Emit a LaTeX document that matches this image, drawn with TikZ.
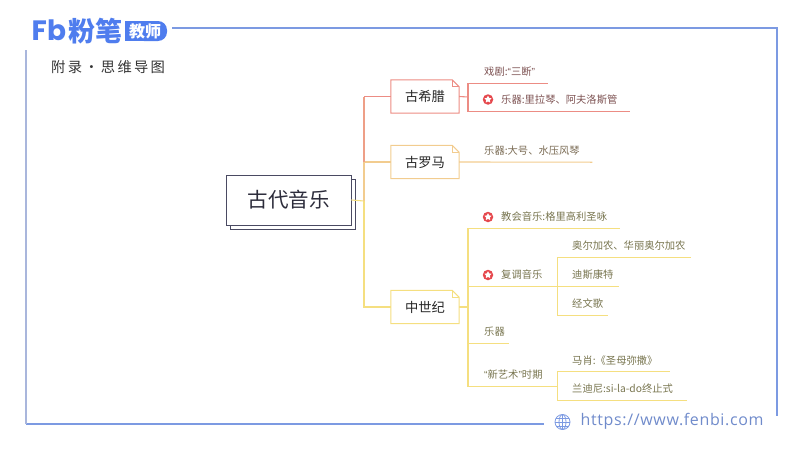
\documentclass[tikz,border=0pt]{standalone}
\usepackage{fontspec}
\setmainfont{Noto Sans CJK SC}
\newfontfamily\titlefont[LetterSpace=16]{Noto Sans CJK SC}
\newfontfamily\webfont[LetterSpace=4]{Open Sans}
\newfontfamily\logofont{Poppins}
\newfontfamily\quotefont{Liberation Sans}
\usetikzlibrary{shapes.geometric}

\definecolor{logoblue}{HTML}{4F7DEE}
\definecolor{frameblue}{HTML}{7C9AE2}
\definecolor{framepale}{HTML}{A9B6DC}
\definecolor{rootink}{HTML}{4A4A62}
\definecolor{greekline}{HTML}{EC8C84}
\definecolor{greektext}{HTML}{7D5252}
\definecolor{romanline}{HTML}{F2CC8F}
\definecolor{romantext}{HTML}{7B6C55}
\definecolor{medline}{HTML}{F5DF80}
\definecolor{medtext}{HTML}{78754F}
\definecolor{prizered}{HTML}{E5484D}

\newcommand{\openq}{{\quotefont “}}
\newcommand{\closeq}{{\quotefont ”}}

\tikzset{
    rootbox/.style={draw=rootink, fill=white, line width=0.9pt, minimum width=125pt, minimum height=50pt, inner sep=0pt},
    notebox/.style={minimum width=68pt, minimum height=33pt, inner sep=0pt, font=\fontsize{13.3}{14}\selectfont, text=black!85},
    leaf/.style={anchor=west, minimum height=22pt, inner sep=0pt, text width=#1, align=left, font=\fontsize{10.3}{12}\selectfont},
    prize/.style={circle, fill=prizered, inner sep=0pt, minimum size=10.5pt,
        path picture={\node[star, star points=5, star point ratio=1.9, fill=white, inner sep=0pt, minimum size=7.5pt] (prizestar) at (path picture bounding box.center) {};}},
    branch/.style={line width=1.1pt}
}

% outline of a note box with the folded corner
\newcommand{\notefold}[2]{
    \draw[#2, line width=1pt, fill=white] (#1.north west) -- ([xshift=-7pt]#1.north east) -- ([yshift=-7pt]#1.north east) -- (#1.south east) -- (#1.south west) -- cycle;
    \draw[#2, line width=0.7pt] ([xshift=-7pt]#1.north east) |- ([yshift=-7pt]#1.north east);
}

\begin{document}
\begin{tikzpicture}[x=1pt,y=-1pt]
    \useasboundingbox (0,0) rectangle (800,450);

    % frame
    \draw[frameblue, line width=2pt] (172,28) -- (777,28) -- (777,416);
    \draw[frameblue, line width=2pt] (26,423.5) -- (544,423.5);
    \draw[framepale, line width=2pt] (26,50) -- (26,423.5);

    % logo
    \node[anchor=west, inner sep=0pt, text=logoblue, font=\logofont\bfseries\fontsize{28}{28}\selectfont] (logomark) at (31.5,30.5) {Fb};
    \node[anchor=west, inner sep=0pt, text=logoblue, font=\bfseries\fontsize{27}{28}\selectfont] (logoname) at (68,31) {粉笔};
    \fill[logoblue, rounded corners=9pt] (135,21) -- (167,21) -- (167,41) -- (135,41) -- cycle;
    \fill[logoblue] (125,21) rectangle (150,41);
    \node[inner sep=0pt, text=white, font=\bfseries\fontsize{16}{16}\selectfont] (logotag) at (145,31) {教师};

    % title
    \node[anchor=west, inner sep=0pt, font=\titlefont\fontsize{14.3}{16}\selectfont, text=black!80] (title) at (51,67) {附录•思维导图};

    % nodes
    \node[rootbox] (rootback) at (292.5,204) {};
    \node[rootbox] (root) at (288.5,200) {};
    \node[inner sep=0pt, font=\fontsize{20.5}{22}\selectfont, text=rootink!60!black] (roottext) at (root) {古代音乐};
    \coordinate (busfork) at (364,201);

    \node[notebox] (greek) at (425,96.5) {};
    \notefold{greek}{greekline}
    \node[notebox] (greektitle) at (greek) {古希腊};
    \node[notebox] (roman) at (425,162) {};
    \notefold{roman}{romanline}
    \node[notebox] (romantitle) at (roman) {古罗马};
    \node[notebox] (medieval) at (425,307) {};
    \notefold{medieval}{medline}
    \node[notebox] (medievaltitle) at (medieval) {中世纪};

    \coordinate (greekfork) at (468,97);
    \coordinate (medfork) at (468,307);

    \begin{scope}[text=greektext]
        \node[leaf=64pt] (drama) at (484,72) {戏剧:\openq 三断\closeq};
        \node[leaf=129pt] (lyre) at (501,100) {乐器:里拉琴、阿夫洛斯管};
    \end{scope}
    \node[leaf=108pt, text=romantext] (tuba) at (484,151) {乐器:大号、水压风琴};
    \begin{scope}[text=medtext]
        \node[leaf=119pt] (chant) at (501,217) {教会音乐:格里高利圣咏};
        \node[leaf=56pt] (poly) at (501,275) {复调音乐};
        \node[leaf=119pt] (organum) at (572,246) {奥尔加农、华丽奥尔加农};
        \node[leaf=47pt] (discant) at (572,275) {迪斯康特};
        \node[leaf=36pt] (motet) at (572,304) {经文歌};
        \node[leaf=25pt] (instr) at (484,332) {乐器};
        \node[leaf=73pt] (arsnova) at (484,375) {\openq 新艺术\closeq 时期};
        \node[leaf=98pt] (machaut) at (572,360.5) {马肖:《圣母弥撒》};
        \node[leaf=115pt] (landini) at (572,389) {兰迪尼:si-la-do终止式};
    \end{scope}

    \node[prize] (prizelyre) at (488,99.5) {};
    \node[prize] (prizechant) at (488,217) {};
    \node[prize] (prizepoly) at (488,275) {};

    % connectors
    \draw[branch, medline] (root.east) -- (busfork);
    \draw[branch, medline] (busfork) |- (medieval.west);
    \draw[branch, romanline] (busfork) |- (roman.west);
    \draw[branch, greekline!70!romanline] (roman.west -| busfork) -- (greek.west -| busfork);
    \draw[branch, greekline] (greek.west -| busfork) -- (greek.west);

    \draw[branch, greekline] (greek.east) -- (greekfork);
    \draw[branch, greekline] (greekfork) |- (drama.south east);
    \draw[branch, greekline] (greekfork) |- (lyre.south east);
    \draw[branch, romanline] (roman.east) -- (tuba.south east);

    \draw[branch, medline] (medieval.east) -- (medfork);
    \draw[branch, medline] (medfork) |- (chant.south east);
    \draw[branch, medline] (medfork) |- (poly.south east);
    \draw[branch, medline] (medfork) |- (instr.south east);
    \draw[branch, medline] (medfork) |- (arsnova.south east);
    \draw[branch, medline] (poly.south east) |- (organum.south east);
    \draw[branch, medline] (poly.south east) -- (discant.south east);
    \draw[branch, medline] (poly.south east) |- (motet.south east);
    \draw[branch, medline] (arsnova.south east) |- (machaut.south east);
    \draw[branch, medline] (arsnova.south east) |- (landini.south east);

    % website
    \begin{scope}[frameblue, line width=0.8pt]
        \draw (562.5,422) circle (7.5pt);
        \draw (562.5,422) ellipse (3.5pt and 7.5pt);
        \draw (555,422) -- (570,422);
        \draw (556,418) -- (569,418);
        \draw (556,426) -- (569,426);
        \draw (562.5,414.5) -- (562.5,429.5);
    \end{scope}
    \node[anchor=west, inner sep=0pt, text=frameblue!90!black, font=\webfont\fontsize{16}{18}\selectfont] (website) at (580.5,421) {https://www.fenbi.com};
\end{tikzpicture}
\end{document}
